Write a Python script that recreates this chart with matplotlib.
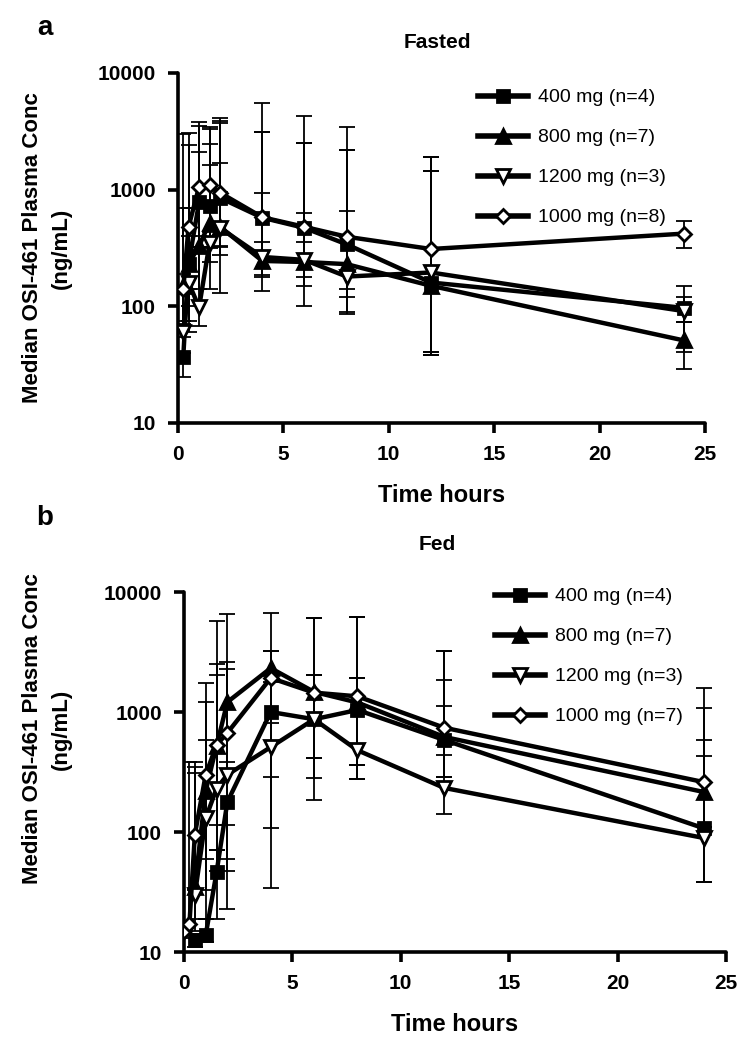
import numpy as np
import matplotlib
matplotlib.use('Agg')
import matplotlib.pyplot as plt
from matplotlib.ticker import FixedLocator, NullLocator

nan = np.nan

# dose groups (legend labels differ in n between panels)
doses = ['400 mg', '800 mg', '1200 mg', '1000 mg']
n_fasted = [4, 7, 3, 8]
n_fed = [4, 7, 3, 7]

# ---- panel a: fasted ----
t_a = [0.25, 0.5, 1, 1.5, 2, 4, 6, 8, 12, 24]
fa_400 = [37, 230, 780, 720, 850, 575, 470, 340, 160, 97]
fa_800 = [150, 230, 330, 520, 480, 245, 240, 230, 150, 51]
fa_1200 = [60, 160, 98, 350, 470, 265, 250, 180, 195, 91]
fa_1000 = [140, 480, 1060, 1100, 940, 580, 480, 395, 310, 420]

fa_400_lo = [25, 75, 325, 315, 325, 187, 148, 140, 41, 73]
fa_400_hi = [55, 700, 2100, 1630, 1700, 940, 625, 650, 1450, 120]
fa_800_lo = [75, 100, 142, 240, 275, 180, 100, 89, 38, 29]
fa_800_hi = [700, 2400, 3800, 3450, 3740, 3150, 2500, 2200, 1920, 73]
fa_1200_lo = [40, 60, 68, 142, 131, 135, 178, 86, 41, 41]
fa_1200_hi = [190, 400, 320, 2450, 4150, 5500, 4300, 3450, 1920, 148]
fa_1000_lo = [70, 140, 400, 430, 330, 355, 355, 120, 38, 315]
fa_1000_hi = [3000, 3080, 3500, 3300, 3900, 3150, 2500, 2200, 1450, 540]

# ---- panel b: fed ----
t_b = [0, 0.25, 0.5, 1, 1.5, 2, 4, 6, 8, 12, 24]
fe_400 = [nan, nan, 12.6, 13.8, 46, 178, 1000, 870, 1040, 585, 107]
fe_800 = [nan, nan, 35, 220, 520, 1210, 2320, 1470, 1200, 620, 215]
fe_1200 = [nan, nan, 30, 130, 230, 300, 510, 870, 480, 233, 89]
fe_1000 = [15, 17, 95, 300, 530, 670, 1920, 1450, 1350, 740, 260]

fe_400_lo = [nan, nan, 11, 12, 19, 23, 34, 185, 276, 290, 38]
fe_400_hi = [nan, nan, 14, 19, 71, 380, 1780, 2040, 1920, 1850, 585]
fe_800_lo = [nan, nan, 19, 33, 71, 115, 810, 415, 365, 290, 110]
fe_800_hi = [nan, nan, 310, 1200, 5700, 6600, 6680, 6050, 6200, 3230, 1080]
fe_1200_lo = [nan, nan, 15, 19, 47, 47, 108, 415, 276, 141, 38]
fe_1200_hi = [nan, nan, 380, 585, 2050, 2600, 3230, 2040, 1920, 1120, 430]
fe_1000_lo = [13, 14, 33, 60, 115, 60, 290, 282, 365, 435, 110]
fe_1000_hi = [17, 380, 350, 1750, 2500, 2300, 3230, 6050, 6200, 3230, 1580]

styles = [
    dict(marker='s', mfc='black', ms=9),
    dict(marker='^', mfc='black', ms=10),
    dict(marker='v', mfc='white', ms=10),
    dict(marker='D', mfc='white', ms=7.5),
]

plt.rcParams['font.family'] = ['Liberation Sans', 'DejaVu Sans']

fig = plt.figure(figsize=(7.53, 10.5), dpi=100)
ax_a = fig.add_axes([178 / 753, 1 - 423 / 1050, 527 / 753, 350 / 1050])
ax_b = fig.add_axes([184 / 753, 1 - 952 / 1050, 542 / 753, 360 / 1050])


def draw(ax, t, series, los, his, ns, leg_xy):
    t = np.array(t, dtype=float)
    handles = []
    for i, (y, lo, hi, st) in enumerate(zip(series, los, his, styles)):
        y = np.array(y, dtype=float)
        lo = np.array(lo, dtype=float)
        hi = np.array(hi, dtype=float)
        ax.errorbar(t, y, yerr=[y - lo, hi - y], fmt='none', ecolor='black',
                    elinewidth=1.3, capsize=6, capthick=1.3, zorder=2)
        m = ~np.isnan(y)
        h, = ax.plot(t[m], y[m], color='black', lw=3.2, marker=st['marker'],
                     ms=st['ms'], mfc=st['mfc'], mec='black', mew=2,
                     zorder=3 + i, label=f'{doses[i]} (n={ns[i]})')
        handles.append(h)
    ax.set_yscale('log')
    ax.set_ylim(10, 10000)
    ax.set_xlim(0, 25)
    ax.yaxis.set_major_locator(FixedLocator([10, 100, 1000, 10000]))
    ax.yaxis.set_minor_locator(NullLocator())
    ax.set_yticklabels(['10', '100', '1000', '10000'])
    ax.set_xticks([0, 5, 10, 15, 20, 25])
    for s in ['top', 'right']:
        ax.spines[s].set_visible(False)
    for s in ['left', 'bottom']:
        ax.spines[s].set_linewidth(2.6)
        ax.spines[s].set_capstyle('round')
    ax.tick_params(width=2.6, length=7, direction='out', pad=9)
    for lab in ax.get_xticklabels() + ax.get_yticklabels():
        lab.set_fontweight('bold')
        lab.set_fontsize(15)
    ax.set_xlabel('Time hours', fontsize=17, fontweight='bold', labelpad=14)
    ax.patch.set_alpha(0)
    leg = fig.legend(handles=handles, loc='upper left', bbox_to_anchor=leg_xy,
                     frameon=False, fontsize=14, handlelength=2.6,
                     handletextpad=0.5, labelspacing=1.15, borderaxespad=0)
    for line in leg.get_lines():
        line.set_linewidth(4)


draw(ax_a, t_a, [fa_400, fa_800, fa_1200, fa_1000],
     [fa_400_lo, fa_800_lo, fa_1200_lo, fa_1000_lo],
     [fa_400_hi, fa_800_hi, fa_1200_hi, fa_1000_hi],
     n_fasted, (470 / 753, 1 - 81 / 1050))
draw(ax_b, t_b, [fe_400, fe_800, fe_1200, fe_1000],
     [fe_400_lo, fe_800_lo, fe_1200_lo, fe_1000_lo],
     [fe_400_hi, fe_800_hi, fe_1200_hi, fe_1000_hi],
     n_fed, (487 / 753, 1 - 580 / 1050))

fig.text(437 / 753, 1 - 43 / 1050, 'Fasted', fontsize=15, fontweight='bold',
         ha='center', va='center')
fig.text(437 / 753, 1 - 545 / 1050, 'Fed', fontsize=15, fontweight='bold',
         ha='center', va='center')

ylab = 'Median OSI-461 Plasma Conc\n(ng/mL)'
fig.text(47 / 753, 1 - 248 / 1050, ylab, rotation=90, ha='center', va='center',
         multialignment='center', fontsize=16, fontweight='bold', linespacing=1.5)
fig.text(47 / 753, 1 - 729 / 1050, ylab, rotation=90, ha='center', va='center',
         multialignment='center', fontsize=16, fontweight='bold', linespacing=1.5)

fig.text(45 / 753, 1 - 28 / 1050, 'a', fontsize=20, fontweight='bold',
         ha='center', va='center')
fig.text(45 / 753, 1 - 518 / 1050, 'b', fontsize=20, fontweight='bold',
         ha='center', va='center')

fig.savefig('out.png', dpi=100)
